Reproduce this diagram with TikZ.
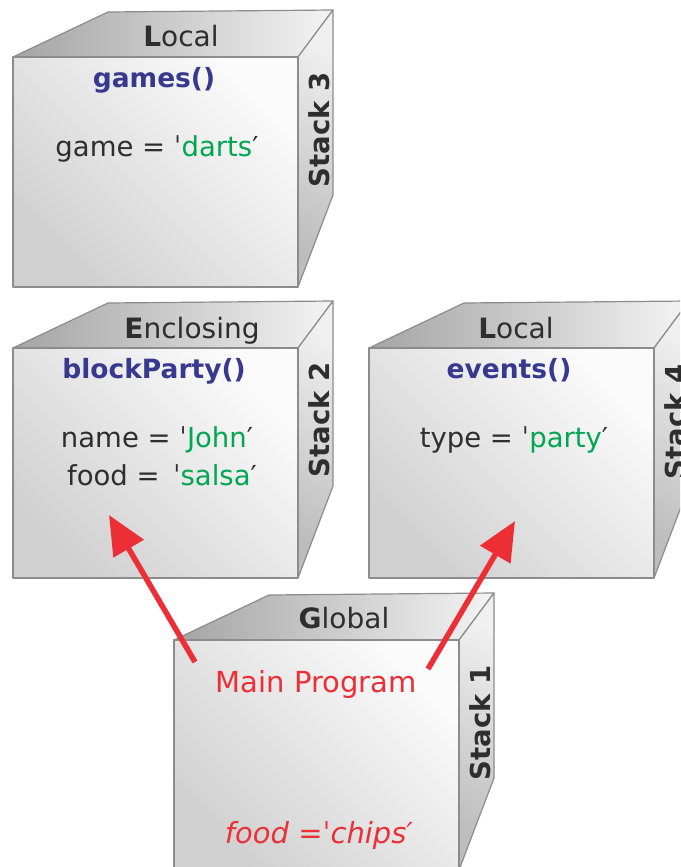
\documentclass[tikz,border=0pt]{standalone}
\usepackage{fontspec}
\setmainfont{DejaVu Sans}
\usetikzlibrary{arrows.meta}

\definecolor{ink}{HTML}{2E2E2E}
\definecolor{fname}{HTML}{37398F}
\definecolor{strval}{HTML}{00A651}
\definecolor{callred}{HTML}{EC2F37}
\definecolor{edgegray}{HTML}{8C8C8C}
\definecolor{frontlight}{HTML}{FBFBFB}
\definecolor{frontdark}{HTML}{D0D0D0}
\definecolor{topdark}{HTML}{A4A4A4}
\definecolor{toplight}{HTML}{F4F4F4}
\definecolor{sidelight}{HTML}{F0F0F0}
\definecolor{sidedark}{HTML}{BDBDBD}

% string quote ticks
\newcommand\oq{ˈ}
\newcommand\cq{′}

% one stack frame drawn as a box; #1,#2 = upper-left corner of the front face
\newcommand\stackbox[2]{%
  \shadedraw[facestyle, left color=topdark, right color=toplight]
    (#1,#2) -- ++(95,-45) -- ++(225,-2) -- ++(-35,47) -- cycle;
  \shadedraw[facestyle, top color=sidelight, bottom color=sidedark, shading angle=-30]
    (#1+285,#2) -- ++(35,-47) -- ++(0,185) -- ++(-35,92) -- cycle;
  \shadedraw[facestyle, top color=frontlight, bottom color=frontdark, shading angle=-45]
    (#1,#2) rectangle ++(285,230);
}

\begin{document}
\begin{tikzpicture}[x=1pt,y=-1pt,
  facestyle/.style={draw=edgegray, line width=1.2pt, line join=round},
  txt/.style={inner sep=0pt, anchor=base, text=ink, font=\fontsize{27.5}{32}\selectfont},
  title/.style={inner sep=0pt, anchor=base, text=ink, font=\fontsize{28}{33}\selectfont},
  fn/.style={inner sep=0pt, anchor=base, text=fname, font=\fontsize{26.5}{31}\selectfont\bfseries},
  stacklbl/.style={inner sep=0pt, anchor=base, rotate=90, text=ink, font=\fontsize{27.5}{32}\selectfont\bfseries},
  call/.style={draw=callred, line width=5.5pt, -{Triangle[length=39pt,width=34pt,fill=callred]}},
]
\useasboundingbox (0,0) rectangle (680,867);
\clip (0,0) rectangle (680,867);

% Stack 3: games()
\stackbox{13}{57}
\node[title] (t3) at (181,47) {\textbf{L}ocal};
\node[fn] (f3) at (154,88) {games()};
\node[txt] (v3) at (157,156) {game = \oq{\color{strval}darts}\cq};
\node[stacklbl] (s3) at (329,130) {Stack 3};

% Stack 2: blockParty()
\stackbox{13}{348}
\node[title] (t2) at (192,338) {\textbf{E}nclosing};
\node[fn] (f2) at (154,378) {blockParty()};
\node[txt] (v2a) at (157,447) {name = \oq{\color{strval}John}\cq};
\node[txt] (v2b) at (162,485) {food = \,\oq{\color{strval}salsa}\cq};
\node[stacklbl] (s2) at (329,420) {Stack 2};

% Stack 4: events()
\stackbox{369}{348}
\node[title] (t4) at (516,338) {\textbf{L}ocal};
\node[fn] (f4) at (509,378) {events()};
\node[txt] (v4) at (514,447) {type = \oq{\color{strval}party}\cq};
\node[stacklbl] (s4) at (685,422) {Stack 4};

% Stack 1: global frame
\stackbox{174}{640}
\node[title] (t1) at (344,628) {\textbf{G}lobal};
\node[txt, text=callred, font=\fontsize{29}{34}\selectfont] (m1) at (316,692) {Main Program};
\node[txt, text=callred, font=\fontsize{29}{34}\selectfont\itshape] (v1) at (319,843) {food =\oq chips\cq};
\node[stacklbl] (s1) at (490,723) {Stack 1};

% calls from the main program
\coordinate (c1from) at (195,662);
\coordinate (c1to) at (109,515);
\coordinate (c2from) at (428,669);
\coordinate (c2to) at (515,521);
\draw[call] (c1from) -- (c1to);
\draw[call] (c2from) -- (c2to);
\end{tikzpicture}
\end{document}
